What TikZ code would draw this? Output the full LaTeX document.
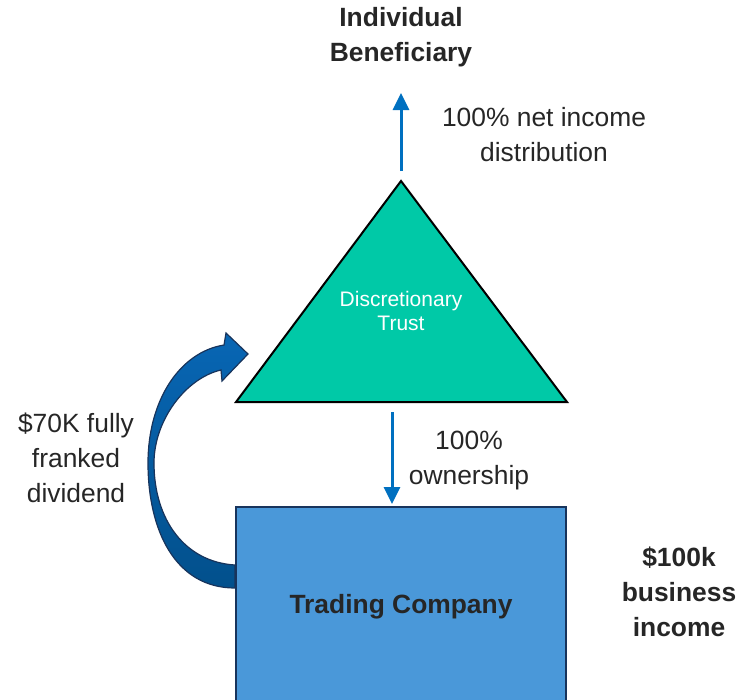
\documentclass[tikz,border=0pt]{standalone}
\usepackage{fontspec}
\setmainfont{Liberation Sans}
\usepackage{tikz}
\usetikzlibrary{arrows.meta,positioning}
\definecolor{trustteal}{RGB}{0,201,167}
\definecolor{companyblue}{RGB}{74,152,217}
\definecolor{companyedge}{RGB}{24,52,92}
\definecolor{flowblue}{RGB}{0,112,192}
\definecolor{curvetop}{RGB}{8,102,180}
\definecolor{curvebottom}{RGB}{2,80,140}
\definecolor{textgrey}{RGB}{38,38,38}
\begin{document}
\begin{tikzpicture}[x=1pt,y=-1pt,
		txt/.style = {align=center,text=textgrey,font=\fontsize{26.4}{35}\selectfont,inner sep=0pt},
		boldtxt/.style = {txt,font=\fontsize{26.4}{35}\selectfont\bfseries},
		flow/.style = {draw=flowblue,line width=3pt,-{Triangle[length=17pt,width=16pt]}}]
		\useasboundingbox (0,0) rectangle (749,699);
		\clip (0,0) rectangle (749,699);
		\coordinate (tl) at (236,402);
		\coordinate (tr) at (567,402);
		\coordinate (apex) at (401,181);
		\filldraw [fill=trustteal,draw=black,line width=2pt,line join=miter] (tl) -- (tr) -- (apex) -- cycle;
		\node (trust) at (401,311) [align=center,text=white,font=\fontsize{21}{24}\selectfont,inner sep=0pt] {Discretionary\\Trust};
		\shade [top color=curvetop,bottom color=curvebottom,draw=companyedge,line width=1.2pt,line join=miter]
			(235,588) .. controls (175,588) and (148,530) .. (148,463)
			.. controls (148,400) and (180,352) .. (224,345) -- (226,333) -- (248,354) -- (222,381) -- (221,370)
			.. controls (186,378) and (154,420) .. (154,463)
			.. controls (154,520) and (185,562) .. (235,565) -- cycle;
		\filldraw [fill=companyblue,draw=companyedge,line width=2pt] (236,507) rectangle (566,720);
		\node (company) at (401,607) [boldtxt] {Trading Company};
		\node (benef) at (401,37) [boldtxt] {Individual\\Beneficiary};
		\node (income) at (679,592) [boldtxt] {\$100k\\business\\income};
		\node (distr) at (544,135) [txt] {100\% net income\\distribution};
		\node (owner) at (469,461) [txt] {100\%\\ownership};
		\node (divid) at (76,458) [txt] {\$70K fully\\franked\\dividend};
		\coordinate (up0) at (401,171);
		\coordinate (up1) at (401,93);
		\coordinate (dn0) at (392,412);
		\coordinate (dn1) at (392,504);
		\draw [flow] (up0) -- (up1);
		\draw [flow] (dn0) -- (dn1);
	\end{tikzpicture}
\end{document}
